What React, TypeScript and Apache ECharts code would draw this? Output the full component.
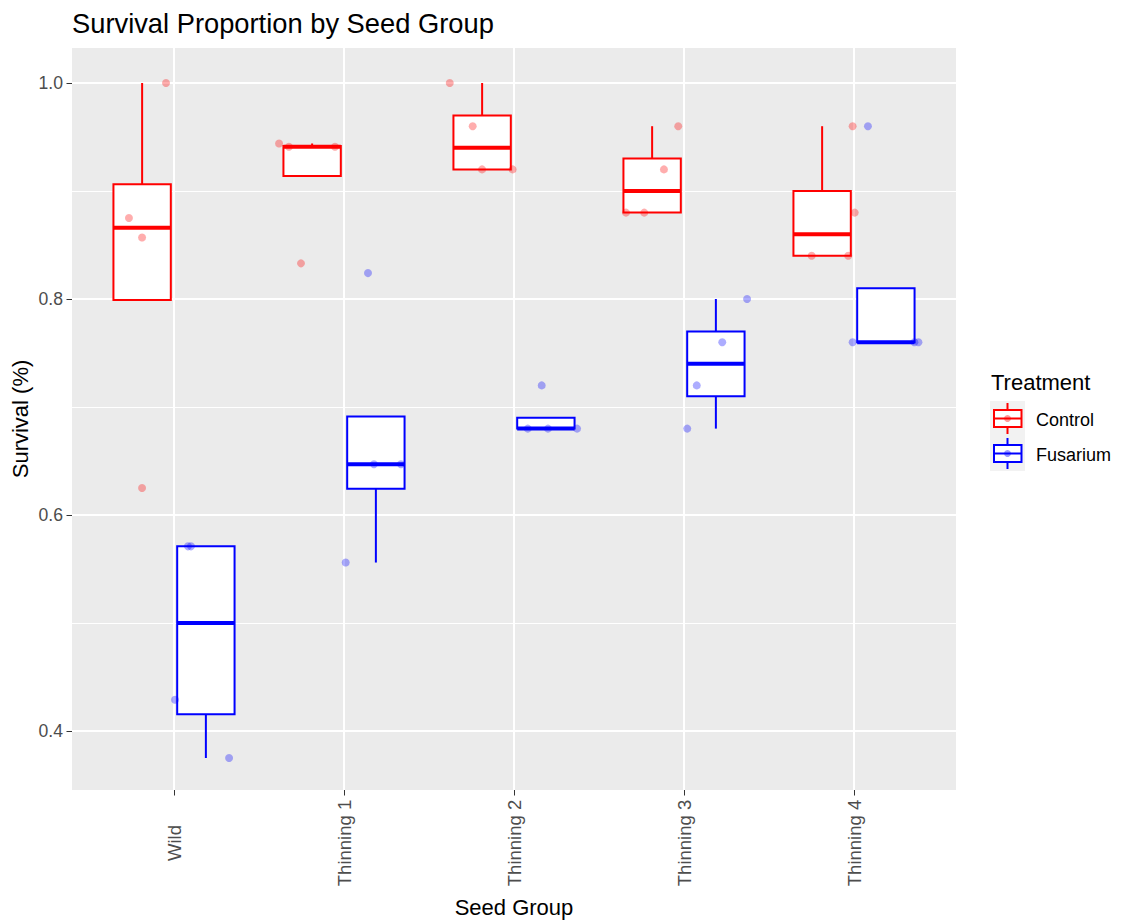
import { useEffect, useRef } from 'react';
import * as echarts from 'echarts';

// Seed groups on the x axis and the two treatments
const seedGroups = ['Wild', 'Thinning 1', 'Thinning 2', 'Thinning 3', 'Thinning 4'];
const treatments = ['Control', 'Fusarium'];
const treatmentColors = ['#FF0000', '#0000FF'];
const pointColors = ['rgba(255,0,0,0.4)', 'rgba(0,0,255,0.4)'];

// Survival proportion of each replicate, one row per seed group
const controlSurvival = [
  [1.0, 0.875, 0.857, 0.625],
  [0.944, 0.941, 0.941, 0.833],
  [1.0, 0.96, 0.92, 0.92],
  [0.88, 0.88, 0.92, 0.96],
  [0.96, 0.88, 0.84, 0.84],
];
const fusariumSurvival = [
  [0.571, 0.571, 0.429, 0.375],
  [0.824, 0.647, 0.647, 0.556],
  [0.72, 0.68, 0.68, 0.68],
  [0.76, 0.72, 0.68, 0.8],
  [0.96, 0.76, 0.76, 0.76],
];

// Horizontal jitter of each replicate point (in category units)
const controlJitter = [
  [-0.047, -0.265, -0.188, -0.188],
  [-0.382, -0.324, -0.053, -0.253],
  [-0.378, -0.243, -0.188, -0.008],
  [-0.341, -0.234, -0.118, -0.034],
  [-0.008, 0.004, -0.249, -0.034],
];
const fusariumJitter = [
  [0.082, 0.1, 0.006, 0.324],
  [0.141, 0.176, 0.335, 0.01],
  [0.163, 0.081, 0.2, 0.371],
  [0.225, 0.075, 0.019, 0.371],
  [0.082, -0.008, 0.355, 0.379],
];

const yTicks = [0.4, 0.6, 0.8, 1.0];
const yMinorTicks = [0.5, 0.7, 0.9];
const xTicks = [0, 1, 2, 3, 4];

const DODGE = 0.1875;
const BOX_WIDTH = 0.3375;
const FONT = '"Liberation Sans", Arial, sans-serif';

function quantile(sorted: number[], p: number) {
  const h = (sorted.length - 1) * p;
  const lo = Math.floor(h);
  const hi = Math.ceil(h);
  return sorted[lo] + (h - lo) * (sorted[hi] - sorted[lo]);
}

// Tukey box statistics: [lower whisker, Q1, median, Q3, upper whisker]
function boxStats(values: number[]) {
  const s = [...values].sort((a, b) => a - b);
  const q1 = quantile(s, 0.25);
  const med = quantile(s, 0.5);
  const q3 = quantile(s, 0.75);
  const iqr = q3 - q1;
  const lo = Math.min(...s.filter((v) => v >= q1 - 1.5 * iqr - 1e-9));
  const hi = Math.max(...s.filter((v) => v <= q3 + 1.5 * iqr + 1e-9));
  return [lo, q1, med, q3, hi];
}

const survivalByTreatment = [controlSurvival, fusariumSurvival];
const jitterByTreatment = [controlJitter, fusariumJitter];

function buildOption() {
  const boxSeries = treatments.map((name, t) => {
    const color = treatmentColors[t];
    const offset = t === 0 ? -DODGE : DODGE;
    const data = survivalByTreatment[t].map((vals, i) => [i + offset, ...boxStats(vals)]);
    return {
      type: 'custom',
      name,
      z: 2,
      encode: { x: 0, y: [1, 2, 3, 4, 5] },
      data,
      renderItem: (_params: any, api: any) => {
        const x = api.value(0);
        const lo = api.value(1);
        const q1 = api.value(2);
        const med = api.value(3);
        const q3 = api.value(4);
        const hi = api.value(5);
        const halfW = api.size([BOX_WIDTH, 0])[0] / 2;
        const pLo = api.coord([x, lo]);
        const pQ1 = api.coord([x, q1]);
        const pMed = api.coord([x, med]);
        const pQ3 = api.coord([x, q3]);
        const pHi = api.coord([x, hi]);
        const cx = pMed[0];
        const children: any[] = [];
        if (hi > q3) {
          children.push({
            type: 'line',
            shape: { x1: cx, y1: pQ3[1], x2: cx, y2: pHi[1] },
            style: { stroke: color, lineWidth: 2 },
          });
        }
        if (lo < q1) {
          children.push({
            type: 'line',
            shape: { x1: cx, y1: pQ1[1], x2: cx, y2: pLo[1] },
            style: { stroke: color, lineWidth: 2 },
          });
        }
        children.push({
          type: 'rect',
          shape: { x: cx - halfW, y: pQ3[1], width: halfW * 2, height: pQ1[1] - pQ3[1] },
          style: { fill: '#FFFFFF', stroke: color, lineWidth: 2 },
        });
        children.push({
          type: 'line',
          shape: { x1: cx - halfW, y1: pMed[1], x2: cx + halfW, y2: pMed[1] },
          style: { stroke: color, lineWidth: 4 },
        });
        return { type: 'group', children };
      },
    };
  });

  const pointSeries = treatments.map((name, t) => ({
    type: 'scatter',
    name: name + ' points',
    z: 3,
    symbol: 'circle',
    symbolSize: 8,
    itemStyle: { color: pointColors[t] },
    data: survivalByTreatment[t].flatMap((vals, i) =>
      vals.map((v, k) => [i + jitterByTreatment[t][i][k], v])
    ),
  }));

  const textBase = { fontFamily: FONT };

  // Legend drawn as ggplot-style keys
  const legendItems: any[] = [
    {
      type: 'text',
      style: { ...textBase, text: 'Treatment', x: 991, y: 382, fontSize: 22, fill: '#000', align: 'left', verticalAlign: 'middle' },
    },
  ];
  treatments.forEach((name, t) => {
    const top = 401 + t * 35;
    const cy = top + 17.5;
    legendItems.push(
      { type: 'rect', shape: { x: 990, y: top, width: 35, height: 35 }, style: { fill: '#F2F2F2' } },
      { type: 'line', shape: { x1: 1007.5, y1: top + 2, x2: 1007.5, y2: top + 33 }, style: { stroke: treatmentColors[t], lineWidth: 2 } },
      { type: 'rect', shape: { x: 994, y: cy - 8.5, width: 27.5, height: 17 }, style: { fill: '#FFFFFF', stroke: treatmentColors[t], lineWidth: 2 } },
      { type: 'line', shape: { x1: 994, y1: cy, x2: 1021.5, y2: cy }, style: { stroke: treatmentColors[t], lineWidth: 2 } },
      { type: 'circle', shape: { cx: 1007.5, cy, r: 3.5 }, style: { fill: pointColors[t] } },
      {
        type: 'text',
        style: { ...textBase, text: name, x: 1036, y: cy + 1, fontSize: 18, fill: '#000', align: 'left', verticalAlign: 'middle' },
      }
    );
  });

  return {
    animation: false,
    backgroundColor: '#FFFFFF',
    grid: {
      left: 72,
      right: 166,
      top: 48,
      bottom: 132,
      containLabel: false,
      show: true,
      backgroundColor: '#EBEBEB',
      borderWidth: 0,
    },
    xAxis: {
      type: 'value',
      min: -0.6,
      max: 4.6,
      axisLine: { show: false, onZero: false },
      axisTick: { show: true, length: 5.5, lineStyle: { color: '#333333', width: 1 }, customValues: xTicks },
      axisLabel: {
        customValues: xTicks,
        formatter: (v: number) => seedGroups[Math.round(v)],
        rotate: 90,
        align: 'center',
        verticalAlign: 'middle',
        margin: 53,
        fontSize: 18.5,
        color: '#4D4D4D',
        fontFamily: FONT,
      },
      splitLine: { show: true, lineStyle: { color: '#FFFFFF', width: 2 } },
    },
    yAxis: [
      {
        type: 'value',
        min: 0.3454,
        max: 1.0324,
        axisLine: { show: false, onZero: false },
        axisTick: { show: true, length: 5.5, lineStyle: { color: '#333333', width: 1 }, customValues: yTicks },
        axisLabel: {
          customValues: yTicks,
          formatter: (v: number) => v.toFixed(1),
          margin: 9,
          fontSize: 17.6,
          color: '#4D4D4D',
          fontFamily: FONT,
        },
        splitLine: { show: true, lineStyle: { color: '#FFFFFF', width: 2 } },
      },
      {
        type: 'value',
        min: 0.3454,
        max: 1.0324,
        position: 'left',
        axisLine: { show: false, onZero: false },
        axisTick: { show: false, customValues: yMinorTicks },
        axisLabel: { show: false, customValues: yMinorTicks },
        splitLine: { show: true, lineStyle: { color: '#FFFFFF', width: 1 } },
      },
    ],
    graphic: [
      {
        type: 'text',
        style: { ...textBase, text: 'Survival Proportion by Seed Group', x: 72, y: 23, fontSize: 27.3, fill: '#000', align: 'left', verticalAlign: 'middle' },
      },
      {
        type: 'text',
        style: { ...textBase, text: 'Seed Group', x: 514, y: 907, fontSize: 22, fill: '#000', align: 'center', verticalAlign: 'middle' },
      },
      {
        type: 'text',
        x: 20,
        y: 419,
        rotation: Math.PI / 2,
        style: { ...textBase, text: 'Survival (%)', x: 0, y: 0, fontSize: 22, fill: '#000', align: 'center', verticalAlign: 'middle' },
      },
      ...legendItems,
    ],
    series: [...boxSeries, ...pointSeries],
  };
}

export default function App() {
  const ref = useRef<HTMLDivElement>(null);
  useEffect(() => {
    if (!ref.current) return;
    const chart = echarts.init(ref.current, undefined, { renderer: 'svg' });
    chart.setOption(buildOption() as any);
    return () => chart.dispose();
  }, []);
  return (
    <div
      ref={ref}
      style={{ position: 'fixed', left: 0, top: 0, width: 1122, height: 922 }}
    />
  );
}
